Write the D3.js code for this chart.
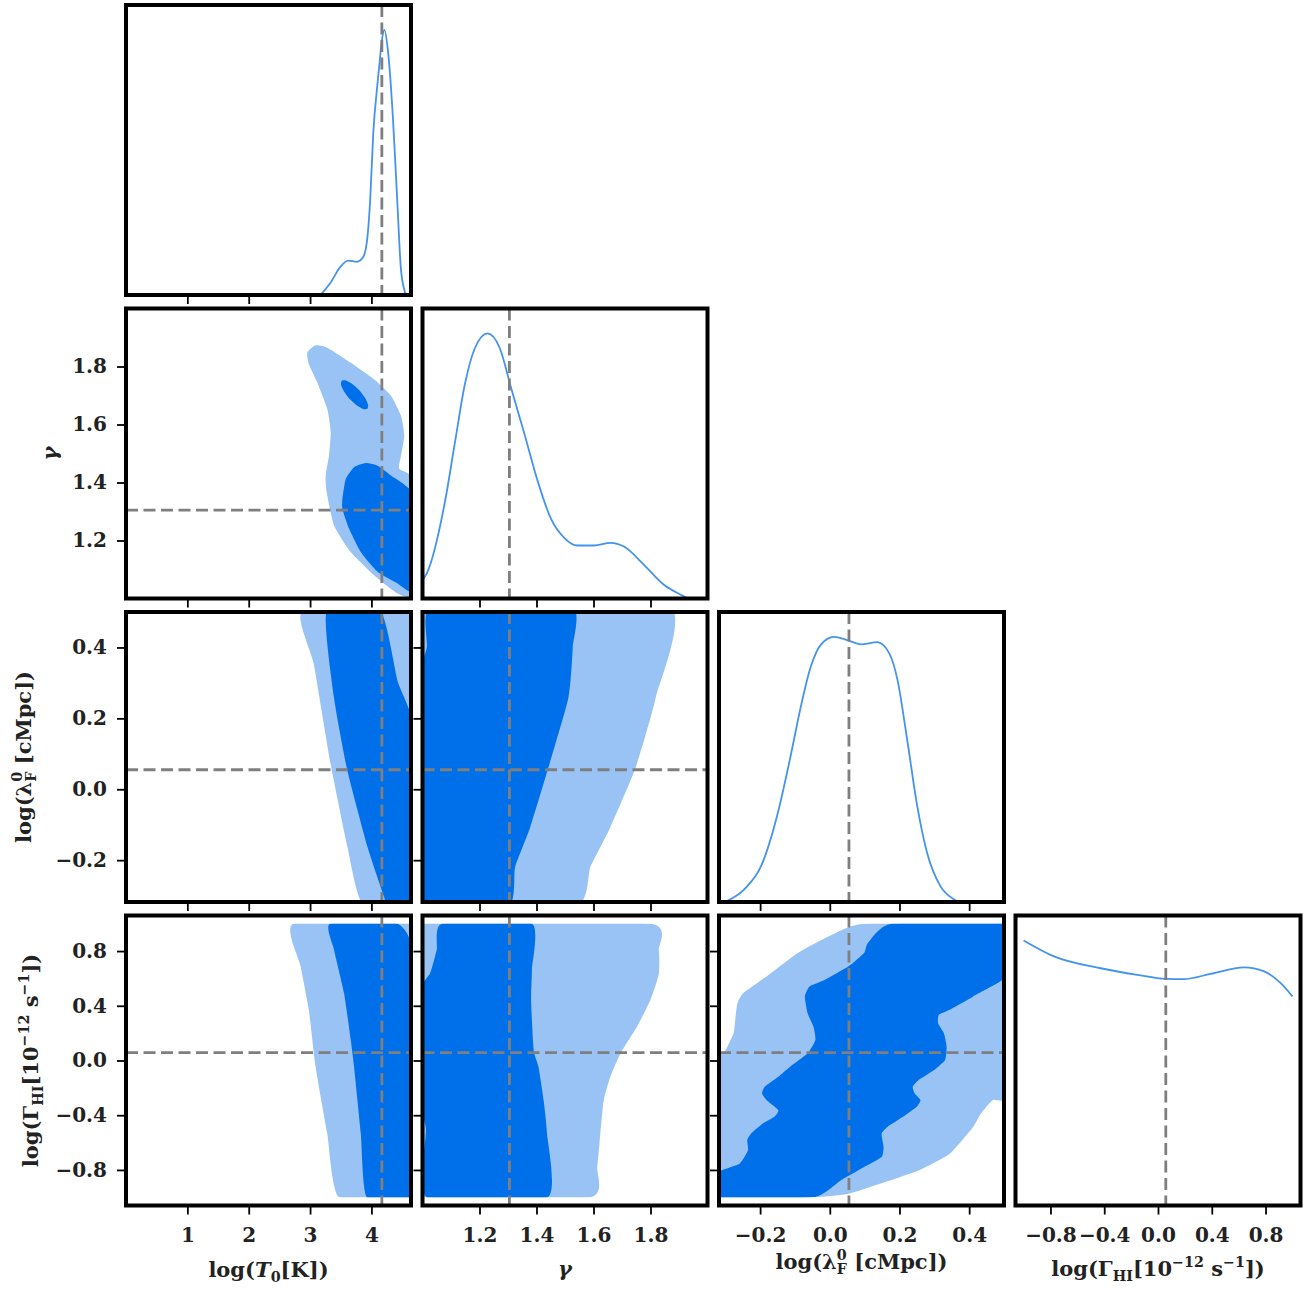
<!DOCTYPE html>
<html>
<head>
<meta charset="utf-8">
<script src="https://cdn.jsdelivr.net/npm/d3@7"></script>
<style>
  body { margin: 0; background: #ffffff; }
</style>
</head>
<body>
<script>
// parameter axes: T0, gamma, lambda_F, Gamma_HI
var paramRanges = [[0, 4.645], [1.0, 2.0], [-0.318, 0.5], [-1.06, 1.06]];
// extent of the grid the 2D regions were computed on
var gridRanges = [[0, 4.645], [1.0, 2.0], [-0.318, 0.5], [-1.0, 1.0]];
var truthValues = [4.17, 1.305, 0.055, 0.058];
var tickValues = [[1, 2, 3, 4], [1.2, 1.4, 1.6, 1.8], [-0.2, 0.0, 0.2, 0.4], [-0.8, -0.4, 0.0, 0.4, 0.8]];
var tickFormats = ["d", ".1f", ".1f", ".1f"];

// 1D marginals (density, peak = 1)
var t0PdfX = [3.17, 3.33, 3.49, 3.62, 3.76, 3.87, 3.94, 3.98, 4.03, 4.10, 4.13, 4.17, 4.21, 4.27, 4.35, 4.42, 4.48, 4.535, 4.56];
var t0PdfY = [0, 0.045, 0.105, 0.13, 0.125, 0.145, 0.23, 0.36, 0.61, 0.80, 0.87, 0.96, 1.0, 0.92, 0.67, 0.36, 0.10, 0.02, 0];
var gammaPdfX = [1.0, 1.015, 1.079, 1.114, 1.149, 1.184, 1.228, 1.271, 1.312, 1.358, 1.405, 1.451, 1.498, 1.544, 1.602, 1.66, 1.707, 1.777, 1.847, 1.917, 1.93];
var gammaPdfY = [0.07, 0.095, 0.366, 0.59, 0.81, 0.945, 1.0, 0.945, 0.79, 0.62, 0.44, 0.30, 0.228, 0.20, 0.20, 0.21, 0.196, 0.127, 0.052, 0.008, 0];
var lambdaPdfX = [-0.301, -0.245, -0.197, -0.149, -0.111, -0.083, -0.054, -0.026, 0.012, 0.05, 0.089, 0.136, 0.17, 0.194, 0.222, 0.251, 0.279, 0.317, 0.356, 0.37];
var lambdaPdfY = [0, 0.049, 0.136, 0.337, 0.56, 0.738, 0.89, 0.97, 1.0, 0.988, 0.972, 0.98, 0.94, 0.84, 0.613, 0.362, 0.187, 0.061, 0.01, 0];
var gammaHIPdfX = [-1.0, -0.774, -0.426, -0.153, 0.057, 0.193, 0.392, 0.64, 0.789, 0.913, 1.0];
var gammaHIPdfY = [1.0, 0.94, 0.895, 0.87, 0.855, 0.854, 0.874, 0.898, 0.883, 0.839, 0.789];
var pdfTop = 1.094;

// 2D credible regions (outer = light, inner = dark), [x, y] in data units
var t0GammaLight = [[2.954,1.848],[3.09,1.873],[3.282,1.865],[3.663,1.813],[4.044,1.756],[4.318,1.699],[4.482,1.630],[4.535,1.561],[4.482,1.492],[4.453,1.447],[4.7,1.40],[4.7,1.02],[4.427,1.017],[4.044,1.080],[3.663,1.160],[3.390,1.252],[3.270,1.367],[3.254,1.424],[3.308,1.492],[3.336,1.573],[3.282,1.653],[3.118,1.745],[2.980,1.808]];
var t0GammaDarkTop = [[3.935,1.654],[3.946,1.668],[3.898,1.691],[3.804,1.718],[3.689,1.740],[3.584,1.752],[3.516,1.751],[3.504,1.737],[3.553,1.714],[3.646,1.688],[3.761,1.666],[3.866,1.653]];
var t0GammaDarkLow = [[3.527,1.344],[3.581,1.412],[3.717,1.453],[3.908,1.467],[4.100,1.458],[4.318,1.424],[4.7,1.35],[4.7,1.03],[4.427,1.052],[4.100,1.092],[3.827,1.160],[3.635,1.241],[3.527,1.309]];

var t0LambdaLight = [[2.872,0.5],[3.062,0.352],[3.336,0.071],[3.609,-0.163],[3.85,-0.32],[4.7,-0.32],[4.7,0.427],[4.535,0.5]];
var t0LambdaDark = [[3.270,0.5],[3.390,0.258],[3.609,0.052],[3.936,-0.163],[4.208,-0.304],[4.236,-0.32],[4.7,-0.32],[4.7,0.165],[4.427,0.305],[4.154,0.5]];

var t0GHILight = [[2.725,1.0],[2.845,0.69],[2.98,0.37],[3.09,-0.046],[3.28,-0.534],[3.471,-1.0],[4.7,-1.0],[4.7,1.0]];
var t0GHIDark = [[3.325,1.0],[3.39,0.81],[3.553,0.493],[3.663,0.15],[3.717,-0.046],[3.827,-0.534],[3.925,-1.0],[4.7,-1.0],[4.7,0.72],[4.427,1.0]];

var gammaLambdaLight = [[0.98,0.52],[1.863,0.52],[1.818,0.258],[1.747,0.059],[1.659,-0.107],[1.589,-0.219],[1.536,-0.33],[0.98,-0.33]];
var gammaLambdaDark = [[1.034,0.52],[1.52,0.52],[1.527,0.4],[1.512,0.258],[1.441,0.059],[1.378,-0.107],[1.325,-0.219],[1.301,-0.33],[0.98,-0.33],[0.98,0.27],[1.015,0.4]];

var gammaGHILight = [[0.98,1.0],[1.8,1.0],[1.829,0.81],[1.829,0.63],[1.80,0.444],[1.753,0.248],[1.695,0.053],[1.659,-0.119],[1.636,-0.29],[1.624,-0.534],[1.613,-0.779],[1.589,-1.0],[0.98,-1.0]];
var gammaGHIDark = [[1.068,1.0],[1.384,1.0],[1.384,0.664],[1.381,0.444],[1.39,0.077],[1.407,-0.046],[1.425,-0.29],[1.437,-0.534],[1.439,-1.0],[1.015,-1.0],[1.012,-0.5],[0.98,-0.2],[0.98,0.468],[1.027,0.64],[1.05,0.81]];

var lambdaGHILight = [[0.0984,1.0],[-0.0022,0.9084],[-0.0917,0.7862],[-0.1811,0.6150],[-0.2482,0.4927],[-0.2649,0.4194],[-0.2705,0.3215],[-0.2761,0.1993],[-0.3040,0.0525],[-0.33,0.0036],[-0.33,-1.0],[-0.0470,-1.0],[0.0537,-0.9745],[0.1431,-0.9011],[0.2549,-0.8033],[0.3443,-0.6810],[0.4114,-0.4854],[0.4337,-0.3876],[0.4673,-0.2898],[0.52,-0.2286],[0.52,1.0]];
var lambdaGHIDark = [[0.1766,1.0],[0.52,1.0],[0.52,0.6394],[0.4114,0.4683],[0.3443,0.3705],[0.3130,0.3338],[0.3108,0.2726],[0.3275,0.1993],[0.3353,0.1015],[0.3309,0.0036],[0.2996,-0.0697],[0.2549,-0.1431],[0.2381,-0.1920],[0.2437,-0.2409],[0.2605,-0.2898],[0.2493,-0.3387],[0.2102,-0.4120],[0.1655,-0.4854],[0.1487,-0.5343],[0.1543,-0.6321],[0.1487,-0.7055],[0.0984,-0.7789],[0.0313,-0.8767],[-0.0470,-1.0],[-0.33,-1.0],[-0.33,-0.8278],[-0.2593,-0.7544],[-0.2348,-0.6566],[-0.2370,-0.5832],[-0.2258,-0.5343],[-0.1923,-0.4609],[-0.1588,-0.4120],[-0.1476,-0.3631],[-0.1811,-0.2898],[-0.1945,-0.2409],[-0.1867,-0.1920],[-0.1476,-0.1186],[-0.1140,-0.0453],[-0.0637,0.0525],[-0.0414,0.1504],[-0.0470,0.2482],[-0.0637,0.3460],[-0.0716,0.4683],[-0.0581,0.5416],[-0.0134,0.5905],[0.0537,0.6883],[0.0984,0.7862],[0.1096,0.8595]];

// table the drawing loop uses
var marginals = [
  {x: t0PdfX, y: t0PdfY},
  {x: gammaPdfX, y: gammaPdfY},
  {x: lambdaPdfX, y: lambdaPdfY},
  {x: gammaHIPdfX, y: gammaHIPdfY}
];
var regions = {
  "1,0": {light: [t0GammaLight], dark: [t0GammaDarkTop, t0GammaDarkLow]},
  "2,0": {light: [t0LambdaLight], dark: [t0LambdaDark]},
  "3,0": {light: [t0GHILight], dark: [t0GHIDark]},
  "2,1": {light: [gammaLambdaLight], dark: [gammaLambdaDark]},
  "3,1": {light: [gammaGHILight], dark: [gammaGHIDark]},
  "3,2": {light: [lambdaGHILight], dark: [lambdaGHIDark]}
};

// layout
var colX = [126, 422.5, 719, 1015.5];
var rowY = [5, 308.5, 612, 915.5];
var panelW = 285, panelH = 290;
var lightBlue = "#99c3f4", darkBlue = "#0070ea", lineBlue = "#4493ee";
var fontFam = "'DejaVu Serif', serif";

var svg = d3.select("body").append("svg")
    .attr("width", 1311)
    .attr("height", 1289)
    .style("font-family", fontFam);
var defs = svg.append("defs");

function xScaleFor(c) {
  return d3.scaleLinear().domain(paramRanges[c]).range([colX[c], colX[c] + panelW]);
}
function yScaleFor(r) {
  return d3.scaleLinear().domain(paramRanges[r]).range([rowY[r] + panelH, rowY[r]]);
}

for (var r = 0; r < 4; r++) {
  for (var c = 0; c <= r; c++) {
    var x = xScaleFor(c);
    var g = svg.append("g");
    var clipId = "clip" + r + c;
    defs.append("clipPath").attr("id", clipId)
      .append("rect")
        .attr("x", colX[c]).attr("y", rowY[r])
        .attr("width", panelW).attr("height", panelH);
    var inner = g.append("g").attr("clip-path", "url(#" + clipId + ")");
    var y;

    if (r === c) {
      y = d3.scaleLinear().domain([0, pdfTop]).range([rowY[r] + panelH, rowY[r]]);
      var m = marginals[c];
      var pdfLine = d3.line()
        .x(function(d) { return x(d[0]); })
        .y(function(d) { return y(d[1]); })
        .curve(d3.curveMonotoneX);
      inner.append("path")
        .datum(d3.zip(m.x, m.y))
        .attr("d", pdfLine)
        .attr("fill", "none")
        .attr("stroke", lineBlue)
        .attr("stroke-width", 1.8);
    } else {
      y = yScaleFor(r);
      // fills stop at the grid edge
      var gridId = "grid" + r + c;
      var gx = gridRanges[c].map(x), gy = gridRanges[r].map(y);
      defs.append("clipPath").attr("id", gridId)
        .append("rect")
          .attr("x", gx[0]).attr("y", gy[1])
          .attr("width", gx[1] - gx[0]).attr("height", gy[0] - gy[1]);
      var fills = inner.append("g").attr("clip-path", "url(#" + gridId + ")");
      var shape = d3.line()
        .x(function(d) { return x(d[0]); })
        .y(function(d) { return y(d[1]); })
        .curve(d3.curveCardinalClosed.tension(0.5));
      var reg = regions[r + "," + c];
      reg.light.forEach(function(p) {
        fills.append("path").attr("d", shape(p)).attr("fill", lightBlue);
      });
      reg.dark.forEach(function(p) {
        fills.append("path").attr("d", shape(p)).attr("fill", darkBlue);
      });
      // horizontal truth line
      inner.append("line")
        .attr("x1", colX[c]).attr("x2", colX[c] + panelW)
        .attr("y1", y(truthValues[r])).attr("y2", y(truthValues[r]))
        .attr("stroke", "#7f7f7f").attr("stroke-width", 2.8)
        .attr("stroke-dasharray", "12,5.5");
    }
    // vertical truth line
    inner.append("line")
      .attr("x1", x(truthValues[c])).attr("x2", x(truthValues[c]))
      .attr("y1", rowY[r]).attr("y2", rowY[r] + panelH)
      .attr("stroke", "#7f7f7f").attr("stroke-width", 2.8)
      .attr("stroke-dasharray", "12,5.5");

    // frame
    g.append("rect")
      .attr("x", colX[c]).attr("y", rowY[r])
      .attr("width", panelW).attr("height", panelH)
      .attr("fill", "none")
      .attr("stroke", "#000")
      .attr("stroke-width", 4);

    // bottom ticks
    var bx = g.append("g")
      .attr("transform", "translate(0," + (rowY[r] + panelH) + ")")
      .call(d3.axisBottom(x)
        .tickValues(tickValues[c])
        .tickSize(9)
        .tickPadding(13.5)
        .tickFormat(r === 3 ? d3.format(tickFormats[c]) : ""));
    bx.select(".domain").remove();

    // left ticks for 2D panels
    if (r > c) {
      var ly = g.append("g")
        .attr("transform", "translate(" + colX[c] + ",0)")
        .call(d3.axisLeft(y)
          .tickValues(tickValues[r])
          .tickSize(9)
          .tickPadding(10)
          .tickFormat(c === 0 ? d3.format(tickFormats[r]) : ""));
      ly.select(".domain").remove();
    }
  }
}

svg.selectAll(".tick line").attr("stroke", "#000").attr("stroke-width", 1.8);
svg.selectAll(".tick text")
  .attr("fill", "#222")
  .style("font-family", fontFam)
  .style("font-size", "20px")
  .style("font-weight", "bold");

// axis labels built from pieces
function mathLabel(parent, parts, size) {
  var t = parent.append("text")
    .attr("font-size", size)
    .attr("font-weight", "bold")
    .attr("fill", "#222")
    .attr("text-anchor", "middle");
  var cur = 0;
  parts.forEach(function(p) {
    var off = 0, fs = size;
    if (p.sup) { off = -0.45 * size; fs = 0.68 * size; }
    if (p.sub) { off = 0.25 * size; fs = 0.68 * size; }
    var ts = t.append("tspan")
      .attr("dy", off - cur)
      .attr("font-size", fs)
      .text(p.t);
    if (p.italic) ts.attr("font-style", "italic");
    if (p.dx) ts.attr("dx", p.dx);
    cur = off;
  });
  return t;
}

var labelSize = 21;
var t0Label = [{t: "log("}, {t: "T", italic: true}, {t: "0", sub: true}, {t: "[K])"}];
var gammaLabel = [{t: "γ", italic: true}];
var lambdaLabel = [{t: "log(λ"}, {t: "0", sup: true}, {t: "F", sub: true, dx: -0.68 * labelSize * 0.7}, {t: " [cMpc])"}];
var gHILabel = [{t: "log(Γ"}, {t: "HI", sub: true}, {t: "[10"}, {t: "−12", sup: true}, {t: " s"}, {t: "−1", sup: true}, {t: "])"}];
var allLabels = [t0Label, gammaLabel, lambdaLabel, gHILabel];

var xLabelBase = [1277, 1276, 1269, 1276];
for (var i = 0; i < 4; i++) {
  mathLabel(svg.append("g").attr("transform", "translate(" + (colX[i] + panelW / 2) + "," + xLabelBase[i] + ")"), allLabels[i], labelSize);
}
var yLabelBase = [0, 57, 31, 38];
for (var j = 1; j < 4; j++) {
  mathLabel(svg.append("g").attr("transform", "translate(" + yLabelBase[j] + "," + (rowY[j] + panelH / 2) + ") rotate(-90)"), allLabels[j], labelSize);
}
</script>
</body>
</html>
